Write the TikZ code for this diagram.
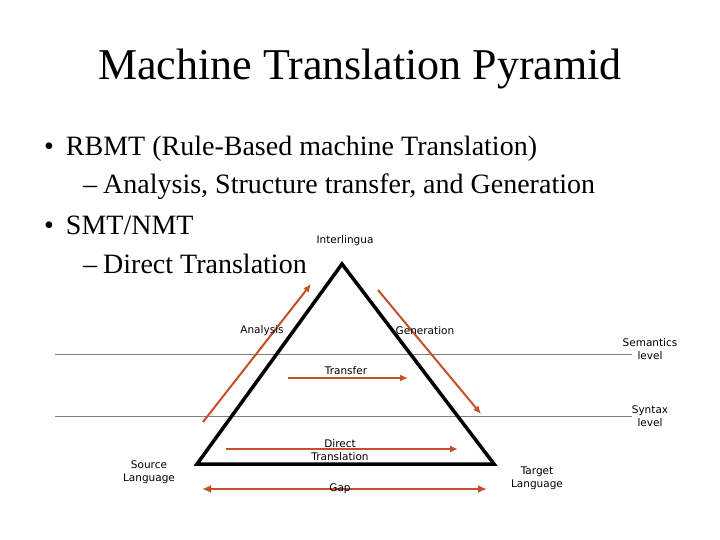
\documentclass[tikz,border=0pt]{standalone}
\usepackage{fontspec}
\usetikzlibrary{arrows.meta}
\setmainfont{Liberation Serif}
\newfontfamily\lblfont{DejaVu Sans}
\definecolor{arr}{RGB}{196,80,40}
\begin{document}
\begin{tikzpicture}[x=1pt,y=-1pt,
  lbl/.style={font=\lblfont\fontsize{10.5}{13}\selectfont,align=center,inner sep=0},
  big/.style={font=\fontsize{28}{32}\selectfont,anchor=west,inner sep=0},
  oarr/.style={draw=arr,line width=2pt,-{Latex[length=8pt,width=7pt]}},
  lvl/.style={draw=gray,line width=0.8pt}]
\useasboundingbox (0,0) rectangle (720,540);
\node[font=\fontsize{44}{50}\selectfont] (title) at (360,69) {Machine Translation Pyramid};
\node[big] (b1) at (44,149) {\textbullet\hspace{12pt}RBMT (Rule-Based machine Translation)};
\node[big] (b2) at (83,187) {–\hspace{6pt}Analysis, Structure transfer, and Generation};
\node[big] (b3) at (44,225) {\textbullet\hspace{12pt}SMT/NMT};
\node[big] (b4) at (83,264) {–\hspace{6pt}Direct Translation};
\coordinate (sl) at (55,354); \coordinate (sr) at (632,354);
\coordinate (yl) at (55,416); \coordinate (yr) at (632,416);
\draw[lvl] (sl) -- (sr);
\draw[lvl] (yl) -- (yr);
\coordinate (apex) at (342,264);
\coordinate (bl) at (197,464);
\coordinate (br) at (494,464);
\draw[line width=3.5pt,line join=miter] (apex) -- (bl) -- (br) -- cycle;
\coordinate (a1) at (203,422); \coordinate (a2) at (311,284);
\draw[oarr] (a1) -- (a2);
\coordinate (g1) at (378,290); \coordinate (g2) at (481,414);
\draw[oarr] (g1) -- (g2);
\coordinate (t1) at (288,378); \coordinate (t2) at (408,378);
\draw[oarr] (t1) -- (t2);
\coordinate (d1) at (226,449); \coordinate (d2) at (458,449);
\draw[oarr] (d1) -- (d2);
\coordinate (p1) at (202,489); \coordinate (p2) at (487,489);
\draw[draw=arr,line width=2.8pt,{Latex[length=9pt,width=8pt]}-{Latex[length=9pt,width=8pt]}] (p1) -- (p2);
\node[lbl] (inter) at (345,241) {Interlingua};
\node[lbl] (ana) at (262,331) {Analysis};
\node[lbl] (gen) at (425,331) {Generation};
\node[lbl] (sem) at (650,349) {Semantics\\level};
\node[lbl] (syn) at (650,416) {Syntax\\level};
\node[lbl] (tra) at (346,371) {Transfer};
\node[lbl] (dir) at (340,450) {Direct\\Translation};
\node[lbl] (src) at (149,472) {Source\\Language};
\node[lbl] (tgt) at (537,478) {Target\\Language};
\node[lbl] (gap) at (340,489) {Gap};
\end{tikzpicture}
\end{document}
